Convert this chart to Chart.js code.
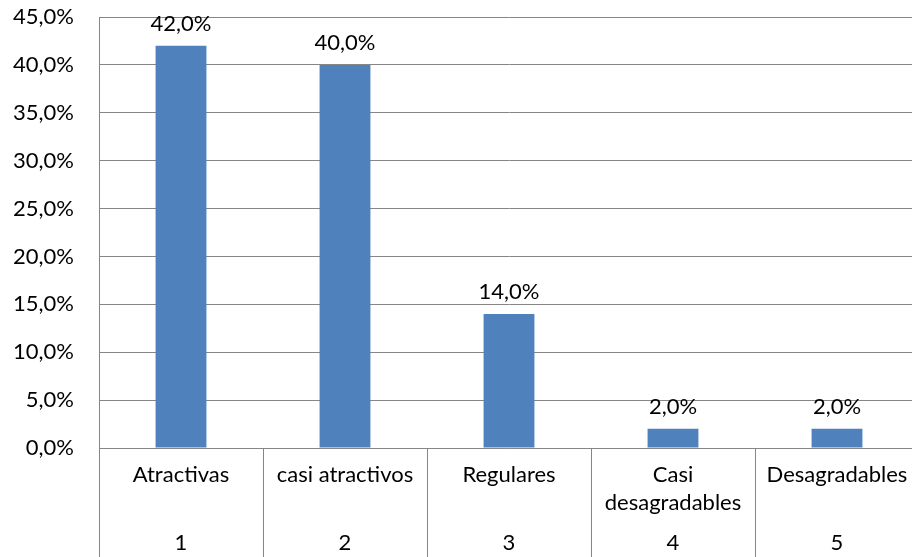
<!DOCTYPE html>
<html>
<head>
<meta charset="utf-8">
<script src="https://cdn.jsdelivr.net/npm/chart.js@4/dist/chart.umd.min.js"></script>
<style>
  body { margin: 0; overflow: hidden; background: #fff; }
  #wrap { width: 919px; height: 557px; }
</style>
</head>
<body>
<div id="wrap"><canvas id="myChart" width="919" height="557"></canvas></div>
<script>
// datos
var categorias = [['Atractivas'], ['casi atractivos'], ['Regulares'], ['Casi', 'desagradables'], ['Desagradables']];
var numeros = ['1', '2', '3', '4', '5'];
var valores = [42.0, 40.0, 14.0, 2.0, 2.0];
var yTicks = [0, 5, 10, 15, 20, 25, 30, 35, 40, 45];

var fuente = 'Lato, "Open Sans", sans-serif';
var tam = 22;
var gris = '#868686';

function pct(v) {
    return v.toFixed(1).replace('.', ',') + '%';
}

/* etiquetas de categoria, separadores y valores sobre las barras */
var etiquetas = {
    id: 'etiquetas',
    afterDraw: function (chart) {
        var ctx = chart.ctx;
        var xs = chart.scales.x;
        var area = chart.chartArea;
        var ancho = xs.getPixelForValue(1) - xs.getPixelForValue(0);
        ctx.save();
        ctx.strokeStyle = gris;
        ctx.lineWidth = 1;
        for (var i = 0; i <= numeros.length; i++) {
            var xx = Math.round(xs.getPixelForValue(0) - ancho / 2 + i * ancho) + 0.5;
            ctx.beginPath();
            ctx.moveTo(xx, area.bottom);
            ctx.lineTo(xx, chart.height);
            ctx.stroke();
        }
        ctx.fillStyle = '#000';
        ctx.font = tam + 'px ' + fuente;
        ctx.textAlign = 'center';
        ctx.textBaseline = 'middle';
        for (var j = 0; j < numeros.length; j++) {
            var cx = xs.getPixelForValue(j);
            categorias[j].forEach(function (linea, k) {
                ctx.fillText(linea, cx, area.bottom + 27 + k * 28);
            });
            ctx.fillText(numeros[j], cx, area.bottom + 95);
        }
        var meta = chart.getDatasetMeta(0);
        ctx.textBaseline = 'alphabetic';
        meta.data.forEach(function (bar, n) {
            ctx.fillText(pct(valores[n]), bar.x, bar.y - 15);
        });
        ctx.restore();
    }
};

var ctx = document.getElementById('myChart').getContext('2d');
var myChart = new Chart(ctx, {
    type: 'bar',
    data: {
        labels: numeros,
        datasets: [{
            data: valores,
            backgroundColor: '#4F81BD',
            borderWidth: 0,
            categoryPercentage: 1,
            barPercentage: 0.31
        }]
    },
    options: {
        responsive: false,
        animation: false,
        layout: { padding: { top: 17, left: 0, right: 0, bottom: 0 } },
        plugins: {
            legend: { display: false },
            tooltip: { enabled: false }
        },
        scales: {
            x: {
                grid: { display: false },
                border: { display: true, color: gris },
                ticks: { display: false },
                afterFit: function (s) {
                    s.height = 109;
                    s.paddingLeft = 0;
                    s.paddingRight = 0;
                }
            },
            y: {
                min: 0,
                max: 45,
                afterBuildTicks: function (s) {
                    s.ticks = yTicks.map(function (v) { return { value: v }; });
                },
                afterFit: function (s) {
                    s.width = 99;
                    s.paddingTop = 0;
                    s.paddingBottom = 0;
                },
                grid: { color: gris, drawTicks: false },
                border: { display: true, color: gris },
                ticks: {
                    padding: 25,
                    color: '#000',
                    font: { family: fuente, size: tam },
                    callback: function (v) { return pct(v); }
                }
            }
        }
    },
    plugins: [etiquetas]
});
</script>
</body>
</html>
